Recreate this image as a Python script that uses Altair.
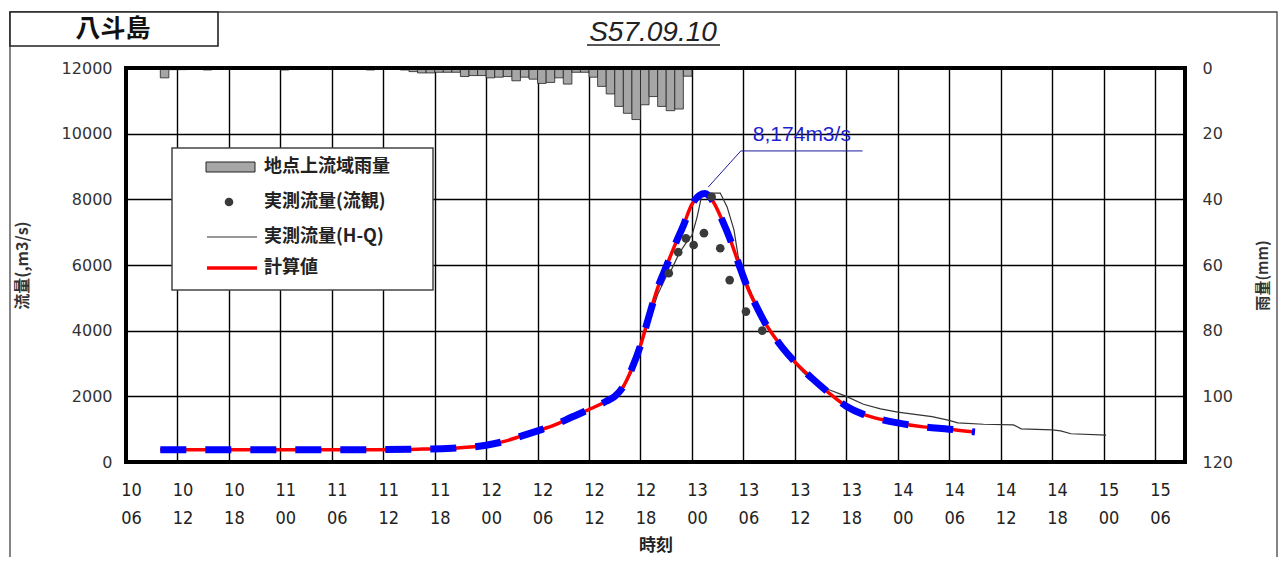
import altair as alt
import pandas as pd

# ---------------- data ----------------
# time axis: hours after 10日06時
tick_hours = list(range(0, 121, 6))
tick_day = ["10", "10", "10", "11", "11", "11", "11", "12", "12", "12", "12",
            "13", "13", "13", "13", "14", "14", "14", "14", "15", "15"]
tick_hh = ["06", "12", "18", "00", "06", "12", "18", "00", "06", "12", "18",
           "00", "06", "12", "18", "00", "06", "12", "18", "00", "06"]

flow_ticks = [0, 2000, 4000, 6000, 8000, 10000, 12000]
rain_ticks = [0, 20, 40, 60, 80, 100, 120]

# hourly basin rainfall (hour ending, mm)
rain_hour = [5, 6, 7, 10, 19, 29, 33, 34, 35, 36, 37, 38, 39, 40, 41, 42, 43, 44, 45,
             46, 47, 48, 49, 50, 51, 52, 53, 54, 55, 56, 57, 58, 59, 60, 61, 62, 63,
             64, 65, 66]
rain_mm = [3.0, 0.5, 0.5, 0.6, 0.6, 0.6, 0.6, 1.1, 1.5, 1.5, 1.3, 1.3, 1.3, 2.6, 2.3,
           2.3, 3.0, 2.8, 2.6, 3.9, 2.8, 3.4, 4.7, 4.4, 3.0, 4.9, 1.3, 1.3, 2.8, 5.6,
           7.9, 11.7, 13.8, 15.7, 11.2, 8.7, 11.7, 13.0, 12.5, 2.5]

# computed discharge
calc_hour = [4, 10, 16, 22, 28, 34, 38, 42, 44, 46, 48, 50, 52, 54, 56, 57, 58, 59, 60,
             61, 62, 63, 64, 65, 66, 67.5, 68.5, 69.5, 70.5, 71.5, 72.5, 73.5, 74.5,
             75.5, 76.5, 78, 80, 82, 84, 86, 88, 90, 93, 96, 99]
calc_q = [370, 370, 370, 370, 375, 390, 420, 510, 620, 780, 950, 1130, 1370, 1600,
          1850, 2000, 2300, 2850, 3550, 4450, 5300, 5950, 6600, 7200, 7850, 8174, 7920,
          7380, 6750, 6000, 5300, 4750, 4250, 3850, 3500, 3050, 2550, 2100, 1700, 1450,
          1300, 1190, 1070, 1000, 915]

# observed discharge (H-Q)
hq_hour = [4, 10, 16, 22, 28, 34, 38, 42, 44, 46, 48, 50, 52, 54, 56, 57, 58, 59, 60,
           61, 62, 63, 63.5, 64.5, 65.5, 66, 66.6, 67.2, 69.3, 70.1, 70.9, 71.4, 72, 73,
           74, 75, 76, 77, 78, 79, 80, 82, 84, 86, 88, 90, 92, 94, 96, 97, 100, 103.5,
           104.4, 108, 109, 110.2, 114.3]
hq_q = [350, 350, 350, 350, 360, 385, 415, 500, 610, 770, 940, 1110, 1350, 1580, 1830,
        1980, 2250, 2750, 3500, 4300, 5100, 5650, 5800, 6350, 6750, 6900, 7460, 8190,
        8190, 7770, 7070, 6250, 5750, 5100, 4550, 4050, 3650, 3300, 3000, 2720, 2480,
        2200, 2000, 1760, 1620, 1520, 1450, 1380, 1270, 1190, 1150, 1130, 1010, 980,
        950, 860, 820]

# observed discharge (流観)
obs_hour = [63.3, 64.4, 65.3, 66.2, 67.4, 68.3, 69.3, 70.4, 72.3, 74.2]
obs_q = [5750, 6390, 6810, 6610, 6970, 8080, 6510, 5540, 4580, 4000]

peak_hour, peak_q = 67.5, 8174
peak_label = "8,174m3/s"

station = "八斗島"
event = "S57.09.10"
legend_labels = ["地点上流域雨量", "実測流量(流観)", "実測流量(H-Q)", "計算値"]

# ---------------- tables ----------------
rain_df = pd.DataFrame({"start": [h - 1 for h in rain_hour], "end": rain_hour,
                        "mm": rain_mm, "zero": 0})
calc_df = pd.DataFrame({"hour": calc_hour, "q": calc_q})
hq_df = pd.DataFrame({"hour": hq_hour, "q": hq_q})
obs_df = pd.DataFrame({"hour": obs_hour, "q": obs_q})
leader_df = pd.DataFrame({"o": [0, 1, 2],
                          "hour": [peak_hour + 0.4, peak_hour + 4.2, peak_hour + 18.4],
                          "q": [peak_q + 200, peak_q + 1300, peak_q + 1300]})
ann_df = pd.DataFrame({"hour": [peak_hour + 5.6], "q": [peak_q + 1790], "t": [peak_label]})
one = pd.DataFrame({"k": [0]})

label_expr = "".join(
    f"datum.value == {h} ? ['{d}', '{m}'] : " for h, d, m in zip(tick_hours, tick_day, tick_hh)
) + "''"

NUM_FONT = "DejaVu Sans"
NARROW = "Liberation Sans Narrow, DejaVu Sans Condensed, Liberation Sans"
JP = "Noto Sans CJK JP"

W, H = 1059, 394

xscale = alt.Scale(domain=[0, 123.5], nice=False, zero=False)
xaxis = alt.Axis(values=tick_hours, labelExpr=label_expr, grid=True, gridColor="black",
                 gridWidth=1.4, domain=False, ticks=False, labelFont=NARROW,
                 labelFontSize=18, labelColor="#222", labelBaseline="top",
                 labelPadding=19, labelLineHeight=28, labelOffset=5, labelFlush=False,
                 title="時刻", titleFont=JP, titleFontSize=17, titleFontWeight="bold",
                 titleColor="#222", titleX=W / 2, titleY=83, titleBaseline="middle",
                 titleAlign="center")
x_enc = alt.X("hour:Q", scale=xscale, axis=xaxis)

yflow_scale = alt.Scale(domain=[0, 12000], nice=False)
yflow_axis = alt.Axis(orient="left", values=flow_ticks, format="d", grid=True,
                      gridColor="black", gridWidth=1.4, domain=False, ticks=False,
                      labelFont=NUM_FONT, labelFontSize=16, labelColor="#333",
                      labelPadding=14, title="流量(,m3/s)", titleFont=JP,
                      titleFontSize=16, titleFontWeight="bold", titleColor="#333",
                      titleAngle=270, titleX=-104, titleY=H / 2, titleAlign="center",
                      titleBaseline="middle")
y_enc = alt.Y("q:Q", scale=yflow_scale, axis=yflow_axis)

rain_scale = alt.Scale(domain=[0, 120], reverse=True, nice=False)
rain_axis = alt.Axis(orient="right", values=rain_ticks, format="d", grid=False,
                     domain=False, ticks=False, labelFont=NUM_FONT, labelFontSize=16,
                     labelColor="#333", labelPadding=17, title="雨量(mm)",
                     titleFont=JP, titleFontSize=15, titleFontWeight="bold",
                     titleColor="#333", titleAngle=270, titleX=77, titleY=H / 2 + 10,
                     titleAlign="center", titleBaseline="middle")

# ---------------- marks ----------------
bars = alt.Chart(rain_df).mark_rect(fill="#a6a6a6", stroke="#222", strokeWidth=0.8).encode(
    x=alt.X("start:Q", scale=xscale, axis=xaxis), x2="end:Q",
    y=alt.Y("zero:Q", scale=rain_scale, axis=rain_axis), y2="mm:Q")

hq_line = alt.Chart(hq_df).mark_line(color="#333333", strokeWidth=1.2).encode(x=x_enc, y=y_enc)
calc_line = alt.Chart(calc_df).mark_line(color="#ff0000", strokeWidth=3.5,
                                         interpolate="monotone").encode(x=x_enc, y=y_enc)
calc_dash = alt.Chart(calc_df).mark_line(color="#0000ff", strokeWidth=7,
                                         strokeDash=[26, 19], interpolate="monotone").encode(
    x=x_enc, y=y_enc)
obs_pts = alt.Chart(obs_df).mark_point(filled=True, color="#3a3a3a", size=75,
                                       opacity=1).encode(x=x_enc, y=y_enc)
leader = alt.Chart(leader_df).mark_line(color="#1a1a9a", strokeWidth=1).encode(
    x=x_enc, y=y_enc, order="o:Q")
ann = alt.Chart(ann_df).mark_text(color="#1f1fd0", font="Liberation Sans", fontSize=21,
                                  align="left", baseline="middle").encode(
    x=x_enc, y=y_enc, text="t:N")

flow = alt.layer(hq_line, calc_line, calc_dash, obs_pts, leader, ann)

# decorations: plot frame, page frame, title box, titles, legend
pframe = alt.Chart(one).mark_rect(fillOpacity=0, stroke="black", strokeWidth=4).encode(
    x=alt.value(0), x2=alt.value(W), y=alt.value(0), y2=alt.value(H))
frame = alt.Chart(one).mark_rect(fillOpacity=0, stroke="#444", strokeWidth=1.3).encode(
    x=alt.value(-116), x2=alt.value(1151), y=alt.value(-56), y2=alt.value(520))
tbox = alt.Chart(one).mark_rect(fill="white", stroke="#222", strokeWidth=1.6).encode(
    x=alt.value(-116), x2=alt.value(92), y=alt.value(-56), y2=alt.value(-22))
ttext = alt.Chart(pd.DataFrame({"t": [station]})).mark_text(
    font=JP, fontSize=25, fontWeight="bold", color="#111", baseline="middle").encode(
    x=alt.value(-13), y=alt.value(-39), text="t:N")
etext = alt.Chart(pd.DataFrame({"t": [event]})).mark_text(
    font="Liberation Sans", fontSize=28, fontStyle="italic", color="#222",
    baseline="middle").encode(x=alt.value(527), y=alt.value(-35), text="t:N")
eline = alt.Chart(one).mark_rule(color="#222", strokeWidth=1.6).encode(
    x=alt.value(461), x2=alt.value(594), y=alt.value(-23))

lbox = alt.Chart(one).mark_rect(fill="white", stroke="#444", strokeWidth=1.5).encode(
    x=alt.value(46), x2=alt.value(307), y=alt.value(80), y2=alt.value(222))
sw_bar = alt.Chart(one).mark_rect(fill="#a6a6a6", stroke="#222", strokeWidth=1).encode(
    x=alt.value(80), x2=alt.value(129), y=alt.value(94), y2=alt.value(104))
sw_pt = alt.Chart(one).mark_point(filled=True, color="#3a3a3a", size=75, opacity=1).encode(
    x=alt.value(103), y=alt.value(134))
sw_hq = alt.Chart(one).mark_rule(color="#333", strokeWidth=1.2).encode(
    x=alt.value(81), x2=alt.value(131), y=alt.value(169))
sw_calc = alt.Chart(one).mark_rule(color="#ff0000", strokeWidth=3.5).encode(
    x=alt.value(81), x2=alt.value(131), y=alt.value(200))
leg_y = [99, 134, 169, 200]
leg_texts = [
    alt.Chart(pd.DataFrame({"t": [lab]})).mark_text(
        font=JP, fontSize=18, fontWeight="bold", color="#222", align="left",
        baseline="middle").encode(x=alt.value(138), y=alt.value(yy), text="t:N")
    for lab, yy in zip(legend_labels, leg_y)
]

chart = alt.layer(
    bars, flow, pframe, frame, tbox, ttext, etext, eline, lbox, sw_bar, sw_pt, sw_hq,
    sw_calc, *leg_texts
).resolve_scale(y="independent").properties(
    width=W, height=H,
    autosize=alt.AutoSizeParams(type="none"),
    padding={"left": 118, "top": 60, "right": 93, "bottom": 95},
).configure_view(stroke=None).configure(background="white")

chart.save("out.html", embed_options={"renderer": "svg", "actions": False})
